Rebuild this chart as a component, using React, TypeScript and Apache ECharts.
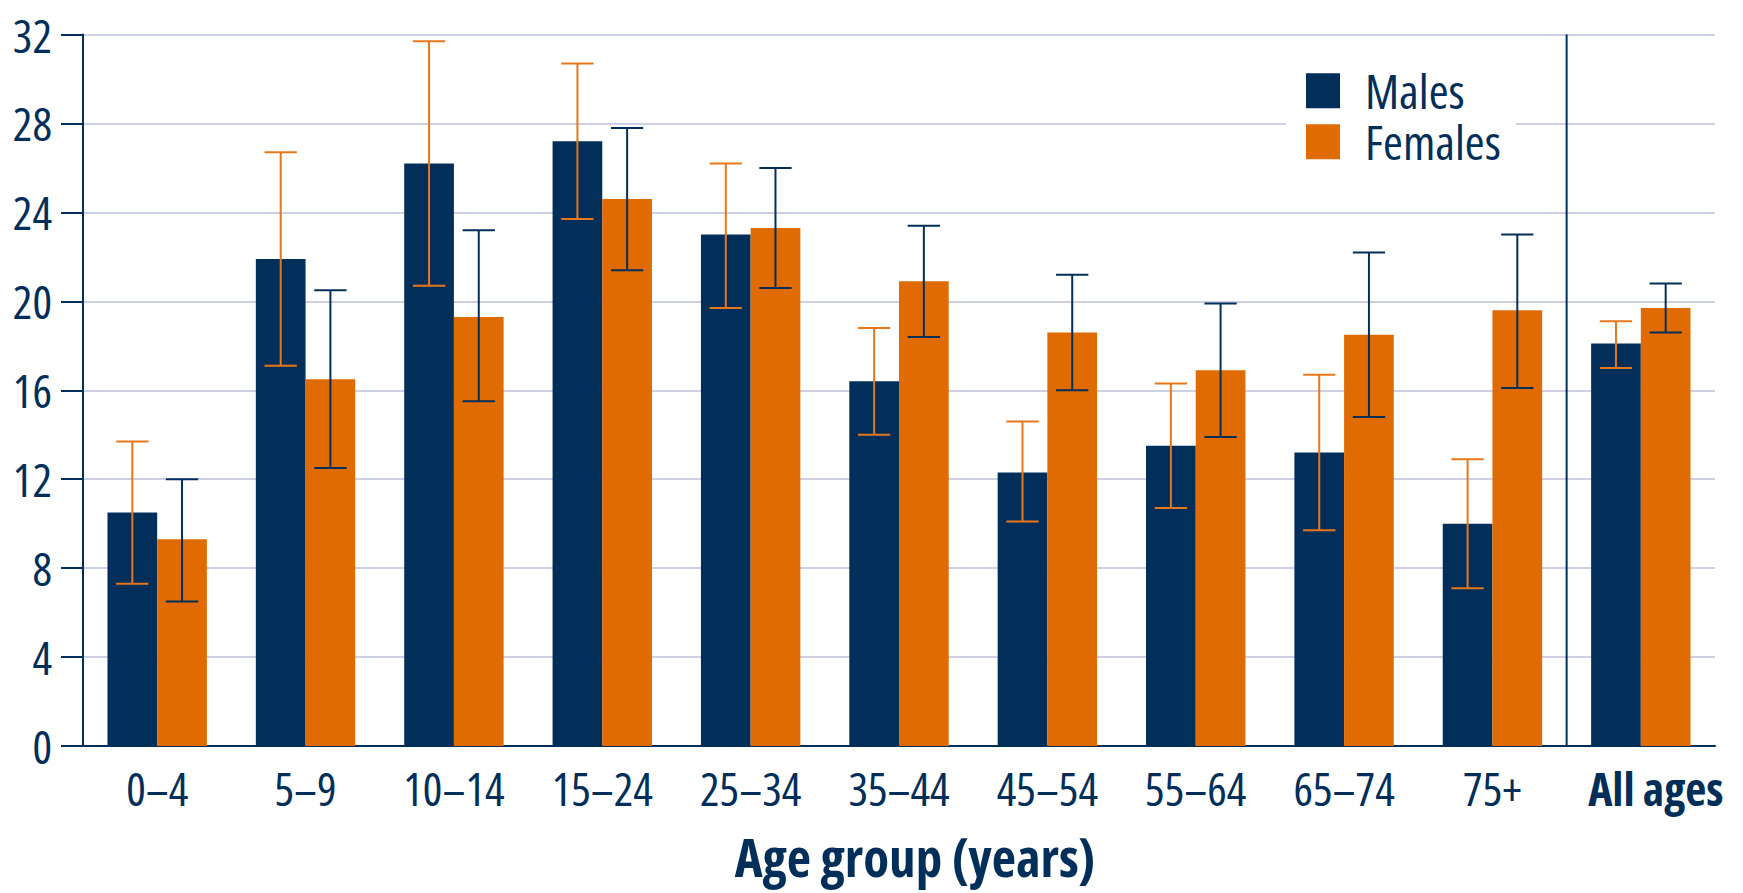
import React, { useEffect, useRef } from "react";
import * as echarts from "echarts";

const categories = ["0–4", "5–9", "10–14", "15–24", "25–34", "35–44", "45–54", "55–64", "65–74", "75+", "All ages"];
const males = [10.5, 21.9, 26.2, 27.2, 23.0, 16.4, 12.3, 13.5, 13.2, 10.0, 18.1];
const malesLow = [7.3, 17.1, 20.7, 23.7, 19.7, 14.0, 10.1, 10.7, 9.7, 7.1, 17.0];
const malesHigh = [13.7, 26.7, 31.7, 30.7, 26.2, 18.8, 14.6, 16.3, 16.7, 12.9, 19.1];
const females = [9.3, 16.5, 19.3, 24.6, 23.3, 20.9, 18.6, 16.9, 18.5, 19.6, 19.7];
const femalesLow = [6.5, 12.5, 15.5, 21.4, 20.6, 18.4, 16.0, 13.9, 14.8, 16.1, 18.6];
const femalesHigh = [12.0, 20.5, 23.2, 27.8, 26.0, 23.4, 21.2, 19.9, 22.2, 23.0, 20.8];

const NAVY = "#022e5a";
const ORANGE = "#e06b02";
const FONT = "'Open Sans', 'Noto Sans', sans-serif";

function errorSeries(name: string, low: number[], high: number[], side: number, color: string) {
  return {
    type: "custom",
    name: name + " error",
    silent: true,
    z: 5,
    data: low.map((l, i) => [i, l, high[i]]),
    encode: { x: 0, y: [1, 2] },
    renderItem: (params: any, api: any) => {
      const i = api.value(0);
      const lo = api.coord([i, api.value(1)]);
      const hi = api.coord([i, api.value(2)]);
      const band = api.size([1, 0])[0];
      const bw = (band * 0.67) / 2;
      const x = lo[0] + (side * bw) / 2;
      const cap = (bw * 0.65) / 2;
      const style = { stroke: color, lineWidth: 2 };
      return {
        type: "group",
        children: [
          { type: "line", shape: { x1: x, y1: lo[1], x2: x, y2: hi[1] }, style },
          { type: "line", shape: { x1: x - cap, y1: lo[1], x2: x + cap, y2: lo[1] }, style },
          { type: "line", shape: { x1: x - cap, y1: hi[1], x2: x + cap, y2: hi[1] }, style },
        ],
      };
    },
  };
}

export default function App() {
  const ref = useRef<HTMLDivElement>(null);
  useEffect(() => {
    const chart = echarts.init(ref.current!, null, { renderer: "svg" });
    const last = categories.length - 1;
    const catData = categories.map((c, i) =>
      i === last ? { value: c, textStyle: { fontWeight: "bold", padding: [0, 0, 0, 30] } } : c
    );
    chart.setOption({
      animation: false,
      grid: { left: 83, right: 28, top: 34.5, bottom: 147, containLabel: false, outerBoundsMode: "none" },
      legend: {
        orient: "vertical",
        left: 1306,
        top: 66.8,
        padding: 0,
        z: 6,
        icon: "rect",
        itemWidth: 34,
        itemHeight: 35,
        itemGap: 3,
        data: ["Males", "Females"],
        textStyle: { fontFamily: FONT, fontSize: 48, color: NAVY, padding: [0, 0, 0, 20] },
      },
      xAxis: {
        type: "category",
        data: catData,
        boundaryGap: true,
        axisLine: { show: true, lineStyle: { color: NAVY, width: 2 } },
        axisTick: { show: false },
        splitLine: { show: false },
        axisLabel: { margin: 19, fontFamily: FONT, fontSize: 46, color: NAVY, interval: 0 },
        name: "Age group (years)",
        nameLocation: "middle",
        nameGap: 84,
        nameTextStyle: { fontFamily: FONT, fontSize: 53, fontWeight: "bold", color: NAVY, padding: [0, 0, 0, 32] },
      },
      yAxis: {
        type: "value",
        min: 0,
        max: 32,
        interval: 4,
        axisLine: { show: true, lineStyle: { color: NAVY, width: 2 } },
        axisTick: { show: true, length: 22, lineStyle: { color: NAVY, width: 2 } },
        splitLine: { show: true, lineStyle: { color: "#cdd0e3", width: 2 } },
        axisLabel: { margin: 31, fontFamily: FONT, fontSize: 46, color: NAVY },
      },
      series: [
        { type: "bar", name: "Males", data: males, itemStyle: { color: NAVY }, barGap: "0%", barCategoryGap: "33%" },
        { type: "bar", name: "Females", data: females, itemStyle: { color: ORANGE }, barGap: "0%", barCategoryGap: "33%" },
        errorSeries("Males", malesLow, malesHigh, -1, "#e8761a"),
        errorSeries("Females", femalesLow, femalesHigh, 1, NAVY),
      ],
    });
    // separator between the age groups and "All ages", placed from the axes
    const xa = chart.convertToPixel({ xAxisIndex: 0 }, last - 1) as number;
    const xb = chart.convertToPixel({ xAxisIndex: 0 }, last) as number;
    const yTop = chart.convertToPixel({ yAxisIndex: 0 }, 32) as number;
    const yBot = chart.convertToPixel({ yAxisIndex: 0 }, 0) as number;
    const xm = (xa + xb) / 2;
    chart.setOption({
      graphic: [
        {
          type: "rect",
          silent: true,
          z: 1,
          shape: { x: 1286, y: 50, width: 230, height: 140 },
          style: { fill: "#ffffff" },
        },
        {
          type: "line",
          silent: true,
          z: 10,
          shape: { x1: xm, y1: yTop, x2: xm, y2: yBot },
          style: { stroke: NAVY, lineWidth: 2 },
        },
      ],
    });
    return () => chart.dispose();
  }, []);
  return (
    <>
      <style>{`#root svg text { font-stretch: 75% !important; }`}</style>
      <div ref={ref} style={{ position: "fixed", left: 0, top: 0, width: 1743, height: 893, background: "#fff" }} />
    </>
  );
}
